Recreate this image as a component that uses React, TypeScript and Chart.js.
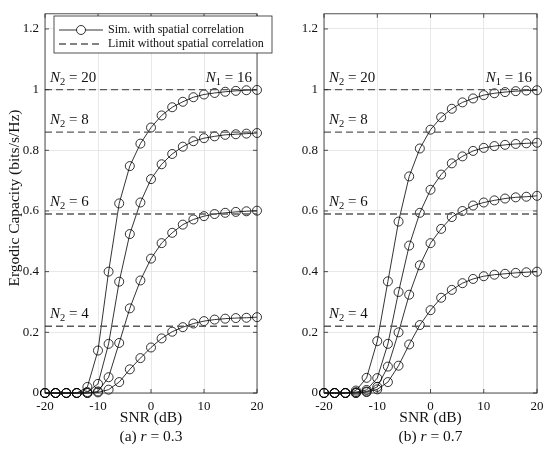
import React, { useEffect, useRef } from "react";
import { Chart, registerables } from "chart.js";

Chart.register(...registerables);

// SNR points (dB)
const snr = [-20, -18, -16, -14, -12, -10, -8, -6, -4, -2, 0, 2, 4, 6, 8, 10, 12, 14, 16, 18, 20];

// limits without spatial correlation, and their N2 labels
const limits = [1, 0.86, 0.59, 0.22];
const limitLabels = ["20", "8", "6", "4"];

// (a) r = 0.3
const a_n20 = [0, 0, 0, 0, 0.02, 0.14, 0.4, 0.625, 0.748, 0.822, 0.875, 0.915, 0.942, 0.96, 0.975, 0.984, 0.989, 0.993, 0.996, 0.998, 0.999];
const a_n8 = [0, 0, 0, 0, 0.003, 0.03, 0.162, 0.367, 0.524, 0.628, 0.705, 0.754, 0.788, 0.812, 0.83, 0.84, 0.846, 0.851, 0.853, 0.855, 0.857];
const a_n6 = [0, 0, 0, 0, 0, 0.005, 0.052, 0.165, 0.279, 0.371, 0.443, 0.494, 0.528, 0.555, 0.572, 0.583, 0.59, 0.594, 0.597, 0.599, 0.601];
const a_n4 = [0, 0, 0, 0, 0, 0.002, 0.011, 0.036, 0.078, 0.115, 0.15, 0.18, 0.202, 0.217, 0.229, 0.237, 0.242, 0.245, 0.247, 0.248, 0.25];

// (b) r = 0.7
const b_n20 = [0, 0, 0, 0.008, 0.05, 0.171, 0.368, 0.565, 0.714, 0.806, 0.868, 0.909, 0.937, 0.958, 0.971, 0.982, 0.988, 0.992, 0.995, 0.997, 0.998];
const b_n8 = [0, 0, 0, 0.003, 0.01, 0.049, 0.162, 0.333, 0.486, 0.594, 0.67, 0.72, 0.757, 0.78, 0.798, 0.808, 0.814, 0.818, 0.821, 0.823, 0.825];
const b_n6 = [0, 0, 0, 0, 0.005, 0.02, 0.087, 0.2, 0.324, 0.421, 0.494, 0.541, 0.58, 0.6, 0.618, 0.628, 0.635, 0.641, 0.645, 0.647, 0.65];
const b_n4 = [0, 0, 0, 0, 0.003, 0.012, 0.036, 0.09, 0.16, 0.224, 0.273, 0.314, 0.34, 0.362, 0.376, 0.385, 0.39, 0.393, 0.396, 0.398, 0.4];

const xTicks = [-20, -10, 0, 10, 20];
const yTicks = [0, 0.2, 0.4, 0.6, 0.8, 1, 1.2];

const FONT = "'Liberation Serif', 'DejaVu Serif', serif";
const INK = "#262626";
const DASH = "#5a5a5a";

type Part = { t: string; it?: boolean; sub?: boolean };

// draws a mixed italic / subscript label, vertically centred on y
function drawMath(ctx: CanvasRenderingContext2D, parts: Part[], x: number, y: number, size: number, align: "left" | "right" | "center") {
  const fontOf = (p: Part) => `${p.it ? "italic " : ""}${p.sub ? size * 0.7 : size}px ${FONT}`;
  let total = 0;
  parts.forEach((p) => {
    ctx.font = fontOf(p);
    total += ctx.measureText(p.t).width;
  });
  let cx = align === "left" ? x : align === "right" ? x - total : x - total / 2;
  ctx.textBaseline = "middle";
  ctx.textAlign = "left";
  parts.forEach((p) => {
    ctx.font = fontOf(p);
    ctx.fillText(p.t, cx, p.sub ? y + size * 0.28 : y);
    cx += ctx.measureText(p.t).width;
  });
}

const decor = {
  id: "decor",
  afterDraw(chart: any, _args: any, opts: any) {
    const { ctx, chartArea: a, scales } = chart;
    const x = scales.x;
    const y = scales.y;
    ctx.save();
    ctx.fillStyle = "#111";

    // box and inward ticks
    ctx.strokeStyle = INK;
    ctx.lineWidth = 0.8;
    ctx.strokeRect(a.left, a.top, a.right - a.left, a.bottom - a.top);
    ctx.beginPath();
    xTicks.forEach((v) => {
      const px = x.getPixelForValue(v);
      ctx.moveTo(px, a.bottom);
      ctx.lineTo(px, a.bottom - 4);
      ctx.moveTo(px, a.top);
      ctx.lineTo(px, a.top + 4);
    });
    yTicks.forEach((v) => {
      const py = y.getPixelForValue(v);
      ctx.moveTo(a.left, py);
      ctx.lineTo(a.left + 4, py);
      ctx.moveTo(a.right, py);
      ctx.lineTo(a.right - 4, py);
    });
    ctx.stroke();

    // N2 / N1 labels over the limit lines
    limits.forEach((v, i) => {
      const py = y.getPixelForValue(v) - 12;
      drawMath(ctx, [{ t: "N", it: true }, { t: "2", sub: true }, { t: " = " + limitLabels[i] }], a.left + 5, py, 15, "left");
    });
    drawMath(ctx, [{ t: "N", it: true }, { t: "1", sub: true }, { t: " = 16" }], a.right - 5, y.getPixelForValue(1) - 12, 15, "right");

    // axis titles
    const midX = (a.left + a.right) / 2;
    ctx.font = `15.5px ${FONT}`;
    ctx.textAlign = "center";
    ctx.textBaseline = "middle";
    ctx.fillText("SNR (dB)", midX, 418);
    drawMath(ctx, [{ t: opts.tag + " " }, { t: "r", it: true }, { t: " = " + opts.r }], midX, 437, 15.5, "center");

    if (opts.left) {
      ctx.save();
      ctx.translate(15, 198);
      ctx.rotate(-Math.PI / 2);
      ctx.font = `15.5px ${FONT}`;
      ctx.textAlign = "center";
      ctx.textBaseline = "middle";
      ctx.fillText("Ergodic Capacity (bits/s/Hz)", 0, 0);
      ctx.restore();

      // legend
      ctx.fillStyle = "#fff";
      ctx.fillRect(54, 16, 218, 37);
      ctx.strokeStyle = INK;
      ctx.lineWidth = 0.8;
      ctx.strokeRect(54, 16, 218, 37);
      ctx.strokeStyle = "#000";
      ctx.beginPath();
      ctx.moveTo(59, 30);
      ctx.lineTo(103, 30);
      ctx.stroke();
      ctx.beginPath();
      ctx.arc(81, 30, 4.5, 0, Math.PI * 2);
      ctx.fillStyle = "#fff";
      ctx.fill();
      ctx.stroke();
      ctx.strokeStyle = DASH;
      ctx.lineWidth = 1.3;
      ctx.setLineDash([7, 4]);
      ctx.beginPath();
      ctx.moveTo(59, 44);
      ctx.lineTo(103, 44);
      ctx.stroke();
      ctx.setLineDash([]);
      ctx.fillStyle = "#111";
      ctx.font = `12px ${FONT}`;
      ctx.textAlign = "left";
      ctx.textBaseline = "middle";
      ctx.fillText("Sim. with spatial correlation", 108, 30);
      ctx.fillText("Limit without spatial correlation", 108, 44);
    }
    ctx.restore();
  },
};

function buildConfig(curves: number[][], left: boolean, tag: string, r: string): any {
  const sims = curves.map((c) => ({
    type: "line",
    data: snr.map((s, i) => ({ x: s, y: c[i] })),
    borderColor: "#000",
    borderWidth: 0.8,
    pointRadius: 4.5,
    pointBorderWidth: 0.8,
    pointBorderColor: "#000",
    pointBackgroundColor: "rgba(0,0,0,0)",
    tension: 0,
    clip: false,
  }));
  const lims = limits.map((v) => ({
    type: "line",
    data: [
      { x: -20, y: v },
      { x: 20, y: v },
    ],
    borderColor: DASH,
    borderWidth: 1.3,
    borderDash: [7, 4],
    pointRadius: 0,
  }));
  return {
    type: "line",
    data: { datasets: [...lims, ...sims] },
    options: {
      responsive: false,
      animation: false,
      layout: { padding: { left: 0, right: left ? 28 : 13, top: 8, bottom: 0 } },
      plugins: {
        legend: { display: false },
        tooltip: { enabled: false },
        decor: { left, tag, r },
      },
      scales: {
        x: {
          type: "linear",
          min: -20,
          max: 20,
          afterFit: (s: any) => {
            s.height = 60;
          },
          afterBuildTicks: (s: any) => {
            s.ticks = xTicks.map((v) => ({ value: v }));
          },
          grid: { color: "#e2e2e2", lineWidth: 0.8, drawTicks: false },
          border: { display: false },
          ticks: { padding: 6, color: "#111", font: { family: FONT, size: 13 }, maxRotation: 0 },
        },
        y: {
          type: "linear",
          min: 0,
          max: 1.25,
          afterFit: (s: any) => {
            s.width = left ? 45 : 39;
          },
          afterBuildTicks: (s: any) => {
            s.ticks = yTicks.map((v) => ({ value: v }));
          },
          grid: { color: "#e2e2e2", lineWidth: 0.8, drawTicks: false },
          border: { display: false },
          ticks: {
            padding: 6,
            color: "#111",
            font: { family: FONT, size: 13 },
            callback: (v: number) => String(Math.round(v * 10) / 10),
          },
        },
      },
    },
    plugins: [decor],
  };
}

function Panel(props: { curves: number[][]; left: boolean; tag: string; r: string; width: number; x: number }) {
  const ref = useRef<HTMLCanvasElement>(null);
  useEffect(() => {
    if (!ref.current) return;
    const chart = new Chart(ref.current, buildConfig(props.curves, props.left, props.tag, props.r));
    return () => chart.destroy();
  }, []);
  return (
    <canvas
      ref={ref}
      width={props.width}
      height={453}
      style={{ position: "absolute", left: props.x, top: 0, width: props.width, height: 453 }}
    />
  );
}

export default function App() {
  return (
    <div style={{ position: "absolute", left: 0, top: 0, width: 550, height: 453, background: "#fff", overflow: "hidden" }}>
      <Panel curves={[a_n20, a_n8, a_n6, a_n4]} left={true} tag="(a)" r="0.3" width={285} x={0} />
      <Panel curves={[b_n20, b_n8, b_n6, b_n4]} left={false} tag="(b)" r="0.7" width={265} x={285} />
    </div>
  );
}
